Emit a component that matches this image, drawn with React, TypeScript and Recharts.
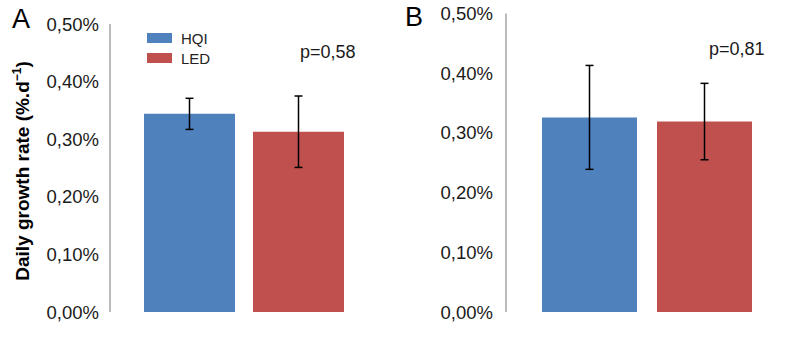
import { BarChart, Bar, XAxis, YAxis, ErrorBar, Legend } from 'recharts';

// panel values (% per day)
const panels = ['A', 'B'];
const hqiMean = [0.344, 0.326];
const hqiErr = [0.027, 0.087];
const ledMean = [0.313, 0.319];
const ledErr = [0.062, 0.064];
const pValues = ['p=0,58', 'p=0,81'];
const yTicks = [0, 0.1, 0.2, 0.3, 0.4, 0.5];
const seriesNames = ['HQI', 'LED'];
const seriesColors = ['#4F81BD', '#C0504D'];

const FONT = '"Liberation Sans", Arial, sans-serif';
const AXIS = '#8c8c8c';

const fmt = (v: number) => v.toFixed(2).replace('.', ',') + '%';

// per-panel layout
const layouts = [
  { left: 0, top: 24, right: 22, yWidth: 110, gap: 34, tickMargin: 5, p: { x: 300, y: 43 }, letter: { x: 12, y: 6 } },
  { left: 400, top: 13.5, right: 12, yWidth: 106, gap: 36, tickMargin: 7, p: { x: 709, y: 40 }, letter: { x: 405, y: 4 } },
];

function LegendBox() {
  return (
    <div style={{ fontFamily: FONT, fontSize: 15, color: '#222' }}>
      {seriesNames.map((n, i) => (
        <div key={n} style={{ display: 'flex', alignItems: 'center', height: 20 }}>
          <div style={{ width: 25, height: 10, background: seriesColors[i], marginRight: 9 }} />
          <span>{n}</span>
        </div>
      ))}
    </div>
  );
}

function Panel({ idx }: { idx: number }) {
  const lay = layouts[idx];
  const data = [{ name: panels[idx], hqi: hqiMean[idx], hqiErr: hqiErr[idx], led: ledMean[idx], ledErr: ledErr[idx] }];
  return (
    <div style={{ position: 'absolute', left: lay.left, top: 0 }}>
      <BarChart
        width={400}
        height={347}
        data={data}
        margin={{ top: lay.top, right: lay.right, bottom: 35, left: 0 }}
        barCategoryGap={lay.gap}
        barGap={idx === 0 ? 18 : 20}
      >
        <XAxis dataKey="name" tick={false} tickLine={false} height={0} axisLine={{ stroke: AXIS, strokeWidth: 1.2 }} />
        <YAxis
          width={lay.yWidth}
          domain={[0, 0.5]}
          ticks={yTicks}
          tickFormatter={fmt}
          tickLine={false}
          tickMargin={lay.tickMargin}
          axisLine={{ stroke: AXIS, strokeWidth: 1.2 }}
          tick={{ fontSize: 18.5, fill: '#1a1a1a', fontFamily: FONT }}
        />
        {idx === 0 && (
          <Legend
            layout="vertical"
            verticalAlign="middle"
            align="center"
            content={() => <LegendBox />}
            wrapperStyle={{ position: 'absolute', left: 147, top: 28, width: 'auto' }}
          />
        )}
        <Bar dataKey="hqi" fill={seriesColors[0]} isAnimationActive={false}>
          <ErrorBar dataKey="hqiErr" width={4} stroke="#000" strokeWidth={1.5} direction="y" isAnimationActive={false} />
        </Bar>
        <Bar dataKey="led" fill={seriesColors[1]} isAnimationActive={false}>
          <ErrorBar dataKey="ledErr" width={4} stroke="#000" strokeWidth={1.5} direction="y" isAnimationActive={false} />
        </Bar>
      </BarChart>
    </div>
  );
}

export default function App() {
  return (
    <div style={{ position: 'absolute', left: 0, top: 0, width: 800, height: 347, background: '#fff', fontFamily: FONT }}>
      <Panel idx={0} />
      <Panel idx={1} />
      {layouts.map((lay, i) => (
        <div key={'p' + i} style={{ position: 'absolute', left: lay.p.x, top: lay.p.y, fontSize: 18, lineHeight: 1, color: '#1a1a1a' }}>
          {pValues[i]}
        </div>
      ))}
      {layouts.map((lay, i) => (
        <div key={'l' + i} style={{ position: 'absolute', left: lay.letter.x, top: lay.letter.y, fontSize: 27, lineHeight: 1, color: '#000' }}>
          {panels[i]}
        </div>
      ))}
      <div
        style={{
          position: 'absolute',
          left: 22,
          top: 171,
          transform: 'translate(-50%, -50%) rotate(-90deg)',
          whiteSpace: 'nowrap',
          fontSize: 19,
          fontWeight: 'bold',
          color: '#000',
        }}
      >
        Daily growth rate (%.d<sup style={{ fontSize: 12 }}>−1</sup>)
      </div>
    </div>
  );
}
